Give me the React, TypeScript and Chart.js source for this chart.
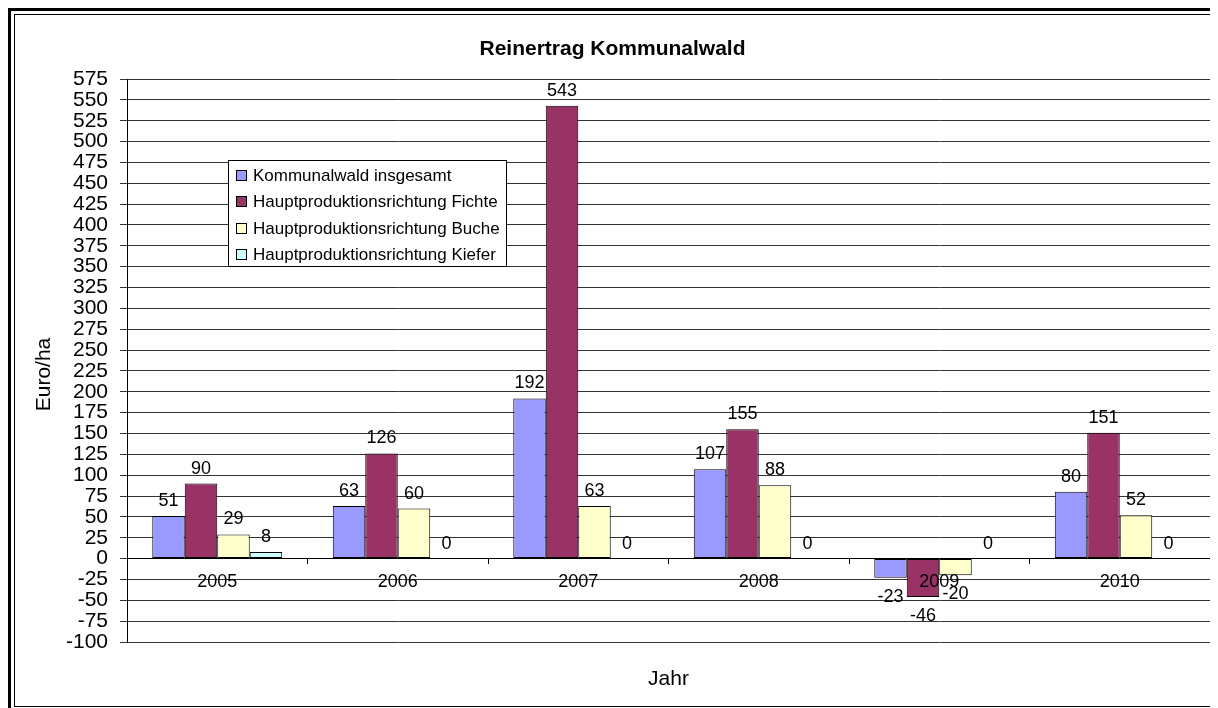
import React, { useEffect, useRef } from "react";
import { Chart, registerables } from "chart.js";

Chart.register(...registerables);

const FONT = "'Liberation Sans', Arial, Helvetica, sans-serif";

const chartTitle = "Reinertrag Kommunalwald";
const xTitle = "Jahr";
const yTitle = "Euro/ha";

const categories = ["2005", "2006", "2007", "2008", "2009", "2010"];
const seriesNames = [
  "Kommunalwald insgesamt",
  "Hauptproduktionsrichtung Fichte",
  "Hauptproduktionsrichtung Buche",
  "Hauptproduktionsrichtung Kiefer",
];
const kommunalwald = [51, 63, 192, 107, -23, 80];
const fichte = [90, 126, 543, 155, -46, 151];
const buche = [29, 60, 63, 88, -20, 52];
const kiefer = [8, 0, 0, 0, 0, 0];
const seriesColors = ["#9999FF", "#993366", "#FFFFCC", "#CCFFFF"];

const yMin = -100;
const yMax = 575;
const yStep = 25;

const valueLabels = {
  id: "valueLabels",
  afterDatasetsDraw(chart: any) {
    const ctx = chart.ctx;
    ctx.save();
    ctx.font = `18px ${FONT}`;
    ctx.fillStyle = "#000";
    ctx.textAlign = "center";
    ctx.textBaseline = "alphabetic";
    chart.data.datasets.forEach((ds: any, i: number) => {
      const meta = chart.getDatasetMeta(i);
      meta.data.forEach((el: any, j: number) => {
        const v = ds.data[j] as number;
        const { x, y } = el.getProps(["x", "y"], true);
        if (v >= 0) {
          ctx.fillText(String(v), x, y - 10);
        } else {
          ctx.fillText(String(v), x, y + 24);
        }
      });
    });
    ctx.restore();
  },
};

const decorations = {
  id: "decorations",
  afterDraw(chart: any) {
    const { ctx, chartArea } = chart;
    ctx.save();
    // axis titles
    ctx.fillStyle = "#000";
    ctx.font = `21px ${FONT}`;
    ctx.textAlign = "center";
    ctx.textBaseline = "middle";
    ctx.fillText(xTitle, (chartArea.left + chartArea.right) / 2, chartArea.bottom + 37);
    ctx.save();
    ctx.translate(chartArea.left - 83, (chartArea.top + chartArea.bottom) / 2 + 14);
    ctx.rotate(-Math.PI / 2);
    ctx.fillText(yTitle, 0, 0);
    ctx.restore();

    // legend box
    const left = chartArea.left + 101;
    const top = chartArea.top + 81;
    const w = 279;
    const h = 107;
    ctx.fillStyle = "#fff";
    ctx.fillRect(left, top, w, h);
    ctx.strokeStyle = "#000";
    ctx.lineWidth = 1;
    ctx.strokeRect(left + 0.5, top + 0.5, w - 1, h - 1);
    ctx.font = `17px ${FONT}`;
    ctx.textAlign = "left";
    ctx.textBaseline = "middle";
    chart.data.datasets.forEach((ds: any, i: number) => {
      const cy = Math.round(top + 15 + i * 26.3);
      ctx.fillStyle = ds.backgroundColor;
      ctx.fillRect(left + 8, cy - 5, 11, 11);
      ctx.strokeStyle = "#000";
      ctx.strokeRect(left + 8.5, cy - 4.5, 10, 10);
      ctx.fillStyle = "#000";
      ctx.fillText(ds.label, left + 25, cy + 1);
    });
    ctx.restore();
  },
};

export default function App() {
  const canvasRef = useRef<HTMLCanvasElement | null>(null);

  useEffect(() => {
    if (!canvasRef.current) return;
    const seriesValues = [kommunalwald, fichte, buche, kiefer];
    const chart = new Chart(canvasRef.current, {
      type: "bar",
      data: {
        labels: categories,
        datasets: seriesValues.map((vals, i) => ({
          label: seriesNames[i],
          data: vals,
          backgroundColor: seriesColors[i],
          borderColor: "#000",
          borderWidth: 1,
          borderSkipped: false,
          categoryPercentage: 0.72,
          barPercentage: 1,
        })),
      },
      options: {
        animation: false,
        responsive: false,
        layout: { padding: { left: 0, right: 0, top: 0, bottom: 64 } },
        plugins: {
          legend: { display: false },
          tooltip: { enabled: false },
          title: {
            display: true,
            text: chartTitle,
            color: "#000",
            font: { family: FONT, size: 21, weight: "bold", lineHeight: 1 },
            padding: { top: 24, bottom: 19 },
          },
        },
        scales: {
          x: {
            position: { y: 0 } as any,
            offset: true,
            grid: {
              display: true,
              drawOnChartArea: false,
              drawTicks: true,
              tickLength: 5,
              offset: true,
              color: "#000",
            },
            border: { display: true, color: "#000" },
            ticks: {
              z: 1,
              color: "#000",
              font: { family: FONT, size: 18 },
              padding: 8,
              maxRotation: 0,
              autoSkip: false,
            },
          },
          y: {
            min: yMin,
            max: yMax,
            ticks: {
              stepSize: yStep,
              color: "#000",
              font: { family: FONT, size: 21 },
              padding: 12,
              autoSkip: false,
            },
            grid: { color: "#333", tickLength: 7, drawTicks: true },
            border: { color: "#000" },
            afterFit(scale: any) {
              scale.width = 112;
            },
          },
        },
      } as any,
      plugins: [valueLabels, decorations],
    });
    return () => chart.destroy();
  }, []);

  return (
    <div
      style={{
        position: "relative",
        width: 1210,
        height: 700,
        boxSizing: "border-box",
        borderTop: "3px solid #000",
        borderLeft: "3px solid #000",
        background: "#fff",
      }}
    >
      <div
        style={{
          position: "absolute",
          left: 3,
          top: 3,
          width: 1199,
          height: 693,
          boxSizing: "border-box",
          borderTop: "1px solid #000",
          borderLeft: "1px solid #000",
          borderBottom: "1px solid #000",
          borderRight: "2px solid #404040",
        }}
      >
        <canvas ref={canvasRef} width={1195} height={691} style={{ display: "block" }} />
      </div>
    </div>
  );
}
